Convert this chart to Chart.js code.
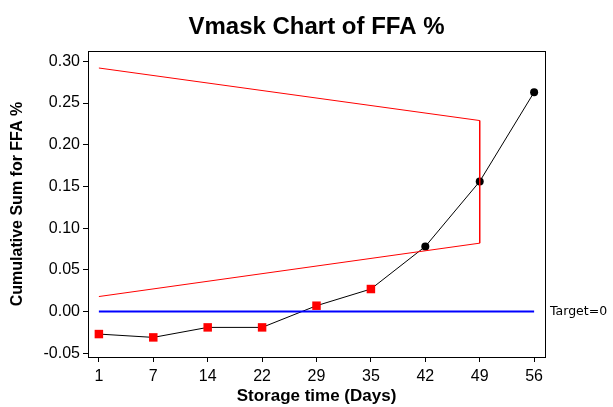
<!DOCTYPE html>
<html>
<head>
<meta charset="utf-8">
<script src="https://cdn.jsdelivr.net/npm/chart.js@4/dist/chart.umd.min.js"></script>
<style>
  html, body { margin: 0; padding: 0; background: #fff; }
  #wrap { width: 613px; height: 407px; }
</style>
</head>
<body>
<div id="wrap"><canvas id="chart" width="613" height="407"></canvas></div>
<script>
// storage days (sample order 1..9)
var days = ['1', '7', '14', '22', '29', '35', '42', '49', '56'];
var cusum = [-0.027, -0.031, -0.019, -0.019, 0.007, 0.027, 0.078, 0.156, 0.263];
var outOfControl = [false, false, false, false, false, false, true, true, true];

// V-mask corners: upper start, upper end, lower end, lower start
var maskX = [1, 8, 8, 1];
var maskY = [0.292, 0.229, 0.082, 0.018];

var target = 0;
var yTicks = [-0.05, 0, 0.05, 0.10, 0.15, 0.20, 0.25, 0.30];
var chartTitle = 'Vmask Chart of FFA %';

function toPoints(xs, ys) {
  return xs.map(function (x, i) { return { x: x, y: ys[i] }; });
}

var cusumPoints = cusum.map(function (v, i) { return { x: i + 1, y: v }; });
var targetPoints = [{ x: 1, y: target }, { x: days.length, y: target }];

var framePlugin = {
  id: 'frame',
  afterDraw: function (chart) {
    var a = chart.chartArea;
    var ctx = chart.ctx;
    ctx.save();
    ctx.strokeStyle = '#000';
    ctx.lineWidth = 1;
    ctx.strokeRect(Math.round(a.left) + 0.5, Math.round(a.top) + 0.5,
      Math.round(a.right - a.left), Math.round(a.bottom - a.top));

    // title, centred over the plot frame
    ctx.fillStyle = '#000';
    ctx.font = 'bold 24px Arial, "Liberation Sans"';
    ctx.textAlign = 'center';
    ctx.textBaseline = 'middle';
    ctx.fillText(chartTitle, (a.left + a.right) / 2, 27);

    // target label outside the plot
    var y = chart.scales.y.getPixelForValue(target);
    ctx.font = '12.5px "DejaVu Sans"';
    ctx.textAlign = 'left';
    ctx.fillText('Target=' + target, a.right + 5, y);
    ctx.restore();
  }
};

var ctx = document.getElementById('chart').getContext('2d');
var chart = new Chart(ctx, {
  type: 'scatter',
  data: {
    datasets: [
      {
        label: 'Vmask',
        data: toPoints(maskX, maskY),
        showLine: true,
        borderColor: '#ff0000',
        borderWidth: 1,
        pointRadius: 0,
        tension: 0
      },
      {
        label: 'Target',
        data: targetPoints,
        showLine: true,
        borderColor: '#0000ff',
        borderWidth: 2,
        pointRadius: 0
      },
      {
        label: 'CUSUM',
        data: cusumPoints,
        showLine: true,
        borderColor: '#000',
        borderWidth: 1,
        pointStyle: outOfControl.map(function (o) { return o ? 'circle' : 'rect'; }),
        pointRadius: outOfControl.map(function (o) { return o ? 4 : 6; }),
        pointBackgroundColor: outOfControl.map(function (o) { return o ? '#000' : '#ff0000'; }),
        pointBorderColor: outOfControl.map(function (o) { return o ? '#000' : '#ff0000'; }),
        pointBorderWidth: 0
      }
    ]
  },
  options: {
    responsive: false,
    animation: false,
    layout: { padding: { top: 51, right: 68 } },
    plugins: {
      legend: { display: false },
      tooltip: { enabled: false },
      title: { display: false }
    },
    scales: {
      x: {
        type: 'linear',
        min: 0.8,
        max: 9.2,
        afterBuildTicks: function (axis) {
          axis.ticks = days.map(function (d, i) { return { value: i + 1 }; });
        },
        afterFit: function (axis) { axis.height = 50; },
        ticks: {
          color: '#000',
          font: { family: 'Arial, "Liberation Sans"', size: 16 },
          padding: 5,
          maxRotation: 0,
          callback: function (v) { return days[v - 1]; }
        },
        grid: { drawOnChartArea: false, drawTicks: true, tickLength: 5, color: '#000' },
        border: { color: '#000' },
        title: {
          display: true,
          text: 'Storage time (Days)',
          color: '#000',
          font: { family: 'Arial, "Liberation Sans"', size: 17, weight: 'bold' },
          padding: { top: 0, bottom: 0 }
        }
      },
      y: {
        min: -0.0545,
        max: 0.3124,
        afterBuildTicks: function (axis) {
          axis.ticks = yTicks.map(function (v) { return { value: v }; });
        },
        afterFit: function (axis) { axis.width = 88; },
        ticks: {
          color: '#000',
          font: { family: 'Arial, "Liberation Sans"', size: 16 },
          padding: 3,
          callback: function (v) { return v.toFixed(2); }
        },
        grid: { drawOnChartArea: false, drawTicks: true, tickLength: 5, color: '#000' },
        border: { color: '#000' },
        title: {
          display: true,
          text: 'Cumulative Sum for FFA %',
          color: '#000',
          font: { family: 'Arial, "Liberation Sans"', size: 16, weight: 'bold' },
          padding: { top: 8, bottom: 0 }
        }
      }
    }
  },
  plugins: [framePlugin]
});
</script>
</body>
</html>
